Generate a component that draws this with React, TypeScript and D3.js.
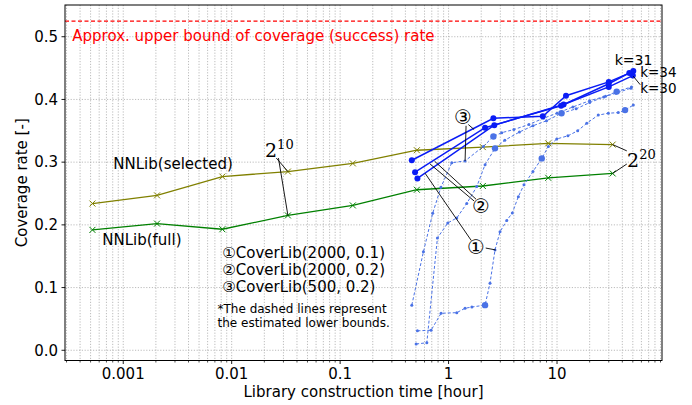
import React from "react";
import * as d3 from "d3";

// ---------- data ----------
const nnTimes = [0.00052, 0.00205, 0.0082, 0.033, 0.131, 0.51, 2.07, 8.3, 32.6];
const nnSelected = [0.234, 0.247, 0.277, 0.285, 0.298, 0.319, 0.324, 0.33, 0.328];
const nnFull = [0.192, 0.202, 0.193, 0.215, 0.231, 0.256, 0.262, 0.275, 0.282];

// CoverLib actual (solid)
const cover1Times = [0.516, 2.64, 11.5, 30, 50];
const cover1Vals = [0.274, 0.359, 0.392, 0.42, 0.438];
const cover2Times = [0.491, 2.17, 10.9, 30, 50.5];
const cover2Vals = [0.284, 0.355, 0.39, 0.425, 0.4455];
const cover3Times = [0.458, 2.59, 7.4, 12.1, 30, 46.4];
const cover3Vals = [0.303, 0.37, 0.373, 0.406, 0.428, 0.442];

// CoverLib estimated lower bounds (dashed)
const lower1Times = [0.516, 0.69, 0.853, 1.19, 1.42, 1.64, 2.17, 2.41, 2.68, 2.98, 3.44, 3.87, 4.4, 4.96, 6.0, 7.23, 8.32, 9.94, 12.6, 15.5, 18.8, 24.0, 29.7, 36.7, 42.4, 50.5];
const lower1Vals = [0.031, 0.032, 0.059, 0.06, 0.067, 0.069, 0.072, 0.107, 0.16, 0.189, 0.207, 0.219, 0.245, 0.264, 0.285, 0.306, 0.325, 0.337, 0.342, 0.35, 0.362, 0.375, 0.378, 0.379, 0.383, 0.391];
const lower1Big = [6, 15, 24];
const lower2Times = [0.502, 0.63, 0.789, 0.983, 1.19, 1.47, 1.82, 2.17, 2.68, 3.3, 4.5, 6, 8, 11, 15, 20, 27, 35, 48];
const lower2Vals = [0.01, 0.012, 0.179, 0.203, 0.211, 0.234, 0.261, 0.296, 0.322, 0.335, 0.348, 0.358, 0.366, 0.378, 0.385, 0.395, 0.404, 0.41, 0.418];
const lower2Big = [8, 13];
const lower3Times = [0.458, 0.586, 0.714, 0.85, 1.07, 1.42, 2.09, 2.59, 3.09, 4.0, 5.5, 7.5, 10, 14, 20, 28, 35.5, 48.6];
const lower3Vals = [0.072, 0.157, 0.2185, 0.26, 0.299, 0.302, 0.325, 0.341, 0.347, 0.352, 0.36, 0.37, 0.378, 0.388, 0.398, 0.405, 0.4125, 0.42];
const lower3Big = [7, 16];

const upperBound = 0.525;
const xTickValues = [0.001, 0.01, 0.1, 1, 10];
const xTickLabels = ["0.001", "0.01", "0.1", "1", "10"];
const yTickValues = [0, 0.1, 0.2, 0.3, 0.4, 0.5];
const yTickLabels = ["0.0", "0.1", "0.2", "0.3", "0.4", "0.5"];
const legendLines = ["\u2460CoverLib(2000, 0.1)", "\u2461CoverLib(2000, 0.2)", "\u2462CoverLib(500, 0.2)"];
const noteLines = ["*The dashed lines represent", "the estimated lower bounds."];

// ---------- layout ----------
const W = 692;
const H = 405;
const L = 65, R = 662, T = 5, B = 360.5;
const FONT = "DejaVu Sans, sans-serif";

const x = d3.scaleLog().domain([Math.pow(10, -3.537), Math.pow(10, 1.968)]).range([L, R]);
const y = d3.scaleLinear().domain([-0.0163, 0.5506]).range([B, T]);

const zip = (a: number[], b: number[]) => a.map((v, i) => [v, b[i]] as [number, number]);
const line = d3.line<[number, number]>().x((d) => x(d[0])).y((d) => y(d[1]));

const minorTicks: number[] = [];
for (let e = -4; e <= 2; e++) {
  for (let m = 1; m <= 9; m++) {
    const v = m * Math.pow(10, e);
    if (v >= x.domain()[0] && v <= x.domain()[1]) minorTicks.push(v);
  }
}

function XMark({ cx, cy, color }: { cx: number; cy: number; color: string }) {
  const s = 3;
  return (
    <path d={`M${cx - s},${cy - s}L${cx + s},${cy + s}M${cx - s},${cy + s}L${cx + s},${cy - s}`} stroke={color} strokeWidth={1} />
  );
}

function Leader({ a, b }: { a: [number, number]; b: [number, number] }) {
  return <line x1={x(a[0])} y1={y(a[1])} x2={x(b[0])} y2={y(b[1])} stroke="#000" strokeWidth={0.9} />;
}

export default function App() {
  const solids = [
    zip(cover1Times, cover1Vals),
    zip(cover2Times, cover2Vals),
    zip(cover3Times, cover3Vals),
  ];
  const lowers = [
    { pts: zip(lower1Times, lower1Vals), big: lower1Big },
    { pts: zip(lower2Times, lower2Vals), big: lower2Big },
    { pts: zip(lower3Times, lower3Vals), big: lower3Big },
  ];
  const sel = zip(nnTimes, nnSelected);
  const full = zip(nnTimes, nnFull);
  const dashColor = "#4a72e6";
  const solidColor = "#0a1cf5";

  return (
    <svg width={W} height={H} style={{ position: "absolute", left: 0, top: 0, background: "#fff" }} fontFamily={FONT}>
      <rect x={0} y={0} width={W} height={H} fill="#fff" />
      {/* grid */}
      <g stroke="#ababab" strokeWidth={0.8} strokeDasharray="1.2,1.6">
        {minorTicks.map((v, i) => (
          <line key={"gx" + i} x1={x(v)} x2={x(v)} y1={T} y2={B} />
        ))}
        {yTickValues.map((v, i) => (
          <line key={"gy" + i} x1={L} x2={R} y1={y(v)} y2={y(v)} />
        ))}
      </g>

      {/* upper bound */}
      <line x1={L} x2={R} y1={y(upperBound)} y2={y(upperBound)} stroke="#ff0000" strokeWidth={1.2} strokeDasharray="4,2.5" />
      <text x={x(0.000339)} y={y(0.493)} fill="#ff0000" fontSize={15}>
        Approx. upper bound of coverage (success) rate
      </text>

      {/* NNLib */}
      <path d={line(sel) || ""} fill="none" stroke="#808000" strokeWidth={1.3} />
      {sel.map((d, i) => (
        <XMark key={"s" + i} cx={x(d[0])} cy={y(d[1])} color="#808000" />
      ))}
      <path d={line(full) || ""} fill="none" stroke="#008000" strokeWidth={1.3} />
      {full.map((d, i) => (
        <XMark key={"f" + i} cx={x(d[0])} cy={y(d[1])} color="#008000" />
      ))}

      {/* lower bounds dashed */}
      {lowers.map((l, k) => (
        <g key={"l" + k}>
          <path d={line(l.pts) || ""} fill="none" stroke={dashColor} strokeWidth={1} strokeDasharray="3,2" />
          {l.pts.map((d, i) => (
            <circle key={i} cx={x(d[0])} cy={y(d[1])} r={l.big.includes(i) ? 3.2 : 1.5} fill={dashColor} />
          ))}
        </g>
      ))}

      {/* solid CoverLib */}
      {solids.map((pts, k) => (
        <g key={"c" + k}>
          <path d={line(pts) || ""} fill="none" stroke={solidColor} strokeWidth={1.5} />
          {pts.map((d, i) => (
            <circle key={i} cx={x(d[0])} cy={y(d[1])} r={3} fill={solidColor} />
          ))}
        </g>
      ))}

      {/* labels on chart */}
      <text x={x(0.00081)} y={y(0.289)} fontSize={15} fill="#000">NNLib(selected)</text>
      <text x={x(0.00064)} y={y(0.168)} fontSize={15} fill="#000">NNLib(full)</text>

      {/* 2^10 annotation */}
      <Leader a={[0.0258, 0.3065]} b={sel[3]} />
      <Leader a={[0.027, 0.3065]} b={full[3]} />
      <text x={x(0.0203)} y={y(0.308)} fontFamily="DejaVu Serif, serif" fontSize={19} fill="#000">
        2<tspan fontSize={13} dy={-8}>10</tspan>
      </text>
      {/* 2^20 annotation */}
      <Leader a={[44, 0.318]} b={sel[8]} />
      <Leader a={[44, 0.297]} b={full[8]} />
      <text x={x(44.3)} y={y(0.292)} fontFamily="DejaVu Serif, serif" fontSize={19} fill="#000">
        2<tspan fontSize={13} dy={-8}>20</tspan>
      </text>

      {/* circled number annotations */}
      <Leader a={[1.45, 0.358]} b={[1.42, 0.302]} />
      <Leader a={[1.52, 0.36]} b={[1.72, 0.352]} />
      <text x={x(1.36)} y={y(0.372)} fontSize={20} textAnchor="middle" dominantBaseline="central" fill="#000">{"\u2462"}</text>
      <Leader a={[1.72, 0.238]} b={[0.675, 0.297]} />
      <Leader a={[1.79, 0.241]} b={[0.743, 0.3015]} />
      <text x={x(1.99)} y={y(0.23)} fontSize={20} textAnchor="middle" dominantBaseline="central" fill="#000">{"\u2461"}</text>
      <Leader a={[1.62, 0.175]} b={[0.607, 0.2823]} />
      <Leader a={[2.2, 0.163]} b={[2.72, 0.16]} />
      <text x={x(1.79)} y={y(0.165)} fontSize={20} textAnchor="middle" dominantBaseline="central" fill="#000">{"\u2460"}</text>

      {/* k labels */}
      <text x={x(34)} y={y(0.455)} fontSize={14} fill="#000">k=31</text>
      <text x={x(58.5)} y={y(0.435)} fontSize={13.5} fill="#000">k=34</text>
      <Leader a={[58.5, 0.4235]} b={[50.5, 0.437]} />
      <text x={x(58.5)} y={y(0.41)} fontSize={13.5} fill="#000">k=30</text>

      {/* legend-ish text block */}
      {legendLines.map((t, i) => (
        <text key={"lg" + i} x={x(0.0082)} y={y(0.147) + i * 17} fontSize={15} fill="#000">{t}</text>
      ))}
      {noteLines.map((t, i) => (
        <text key={"nt" + i} x={x(0.0074)} y={y(0.059) + i * 14} fontSize={12} fill="#000">{t}</text>
      ))}

      {/* frame */}
      <rect x={L} y={T} width={R - L} height={B - T} fill="none" stroke="#000" strokeWidth={1} />

      {/* x ticks */}
      {minorTicks.map((v, i) => {
        const major = xTickValues.some((t) => Math.abs(t - v) / t < 1e-6);
        return <line key={"tx" + i} x1={x(v)} x2={x(v)} y1={B} y2={B + (major ? 3.5 : 2)} stroke="#000" strokeWidth={major ? 0.9 : 0.7} />;
      })}
      {xTickValues.map((v, i) => (
        <text key={"xl" + i} x={x(v)} y={B + 18} fontSize={15} textAnchor="middle" fill="#000">{xTickLabels[i]}</text>
      ))}
      {/* y ticks */}
      {yTickValues.map((v, i) => (
        <g key={"ty" + i}>
          <line x1={L - 3.5} x2={L} y1={y(v)} y2={y(v)} stroke="#000" strokeWidth={0.9} />
          <text x={L - 7} y={y(v)} dy="0.35em" fontSize={15} textAnchor="end" fill="#000">{yTickLabels[i]}</text>
        </g>
      ))}

      {/* axis titles */}
      <text x={(L + R) / 2} y={397} fontSize={15} textAnchor="middle" fill="#000">Library construction time [hour]</text>
      <text transform={`translate(22,${(T + B) / 2}) rotate(-90)`} fontSize={15} textAnchor="middle" dominantBaseline="central" fill="#000">Coverage rate [-]</text>
    </svg>
  );
}
